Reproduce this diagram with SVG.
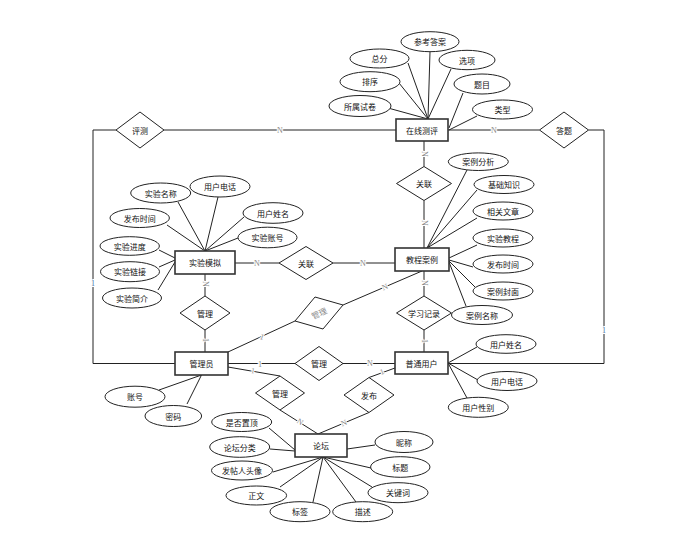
<svg xmlns="http://www.w3.org/2000/svg" width="699" height="554" viewBox="0 0 699 554">
<style>
.box{fill:#fff;stroke:#333;stroke-width:1.6}
.at{fill:#fff;stroke:#222;stroke-width:1}
.rel{fill:#fff;stroke:#222;stroke-width:1}
.ln{stroke:#222;stroke-width:1;fill:none}
.t{font-family:"Noto Sans CJK SC","Noto Sans",sans-serif;font-size:8px;text-anchor:middle;dominant-baseline:central;fill:#111}
.lb{font-family:"Liberation Serif",serif;font-size:8px;fill:#888;stroke:#fff;stroke-width:2;paint-order:stroke;text-anchor:middle;dominant-baseline:central}
.one{font-family:"Liberation Serif",serif;font-size:8px;fill:#4a6fa5;text-anchor:middle;dominant-baseline:central;stroke:#fff;stroke-width:2;paint-order:stroke}
</style>
<rect width="699" height="554" fill="#fff"/>
<g id="connectors">
<polyline class="ln" points="164,130 396,130"/>
<polyline class="ln" points="116,130 93,130 93,363.5 175,363.5"/>
<polyline class="ln" points="448,130 539.5,130"/>
<polyline class="ln" points="588.5,130 604,130 604,363.5 448,363.5"/>
<line class="ln" x1="424" y1="141" x2="424" y2="166.5"/>
<line class="ln" x1="424" y1="200.5" x2="424" y2="248"/>
<line class="ln" x1="235" y1="263" x2="279" y2="263"/>
<line class="ln" x1="333" y1="263" x2="395" y2="263"/>
<line class="ln" x1="205" y1="274" x2="205" y2="296"/>
<line class="ln" x1="205" y1="330" x2="205" y2="352"/>
<line class="ln" x1="228" y1="352" x2="295" y2="321"/>
<line class="ln" x1="343" y1="305" x2="422" y2="271"/>
<line class="ln" x1="424" y1="271" x2="424" y2="296"/>
<line class="ln" x1="424" y1="330" x2="424" y2="352"/>
<line class="ln" x1="228" y1="363.5" x2="295" y2="363.5"/>
<line class="ln" x1="343" y1="363.5" x2="395" y2="363.5"/>
<line class="ln" x1="228" y1="367" x2="280" y2="376"/>
<line class="ln" x1="280" y1="410" x2="318" y2="434"/>
<line class="ln" x1="395" y1="368" x2="369" y2="377.5"/>
<line class="ln" x1="369" y1="412.5" x2="318" y2="434"/>
<!-- attribute lines -->
<line class="ln" x1="430" y1="51.7" x2="428" y2="119"/>
<line class="ln" x1="408" y1="63" x2="428" y2="119"/>
<line class="ln" x1="451" y1="69" x2="428" y2="119"/>
<line class="ln" x1="399" y1="83" x2="428" y2="119"/>
<line class="ln" x1="463" y1="93" x2="449" y2="128"/>
<line class="ln" x1="388" y1="108" x2="428" y2="119"/>
<line class="ln" x1="477" y1="116" x2="449" y2="130"/>
<line class="ln" x1="178" y1="202" x2="205" y2="251"/>
<line class="ln" x1="218" y1="197" x2="205" y2="251"/>
<line class="ln" x1="244" y1="217" x2="205" y2="251"/>
<line class="ln" x1="238" y1="238" x2="205" y2="251"/>
<line class="ln" x1="167" y1="225" x2="205" y2="251"/>
<line class="ln" x1="159" y1="250" x2="175" y2="258"/>
<line class="ln" x1="159" y1="267" x2="175" y2="260"/>
<line class="ln" x1="158" y1="290" x2="175" y2="262"/>
<line class="ln" x1="467" y1="170" x2="427" y2="248"/>
<line class="ln" x1="477" y1="190" x2="427" y2="248"/>
<line class="ln" x1="477" y1="218" x2="427" y2="248"/>
<line class="ln" x1="477" y1="245" x2="449" y2="258"/>
<line class="ln" x1="473" y1="267" x2="449" y2="260"/>
<line class="ln" x1="475" y1="287" x2="449" y2="261"/>
<line class="ln" x1="466" y1="306" x2="449" y2="262"/>
<line class="ln" x1="159" y1="390" x2="201.5" y2="375"/>
<line class="ln" x1="187" y1="404" x2="201.5" y2="375"/>
<line class="ln" x1="477" y1="347" x2="448" y2="363"/>
<line class="ln" x1="478" y1="380" x2="448" y2="363"/>
<line class="ln" x1="467" y1="398" x2="448" y2="363"/>
<line class="ln" x1="269" y1="428" x2="295" y2="450"/>
<line class="ln" x1="270" y1="449" x2="295" y2="451"/>
<line class="ln" x1="273" y1="472" x2="323" y2="457"/>
<line class="ln" x1="280" y1="487" x2="323" y2="457"/>
<line class="ln" x1="313" y1="502" x2="323" y2="457"/>
<line class="ln" x1="356" y1="502" x2="323" y2="457"/>
<line class="ln" x1="372" y1="487" x2="323" y2="457"/>
<line class="ln" x1="371" y1="468" x2="323" y2="457"/>
<line class="ln" x1="375" y1="445" x2="347" y2="449"/>
<!-- cardinality labels -->
<text class="lb" x="280" y="130">N</text>
<text class="one" x="93" y="283">1</text>
<text class="lb" x="494" y="130">N</text>
<text class="one" x="604" y="330">1</text>
<text class="lb" transform="translate(424,154) rotate(90)">N</text>
<text class="lb" transform="translate(424,223) rotate(90)">N</text>
<text class="lb" x="257" y="263">N</text>
<text class="lb" x="363" y="263">N</text>
<text class="lb" transform="translate(205,284) rotate(90)">N</text>
<text class="lb" transform="translate(205,340) rotate(90)">1</text>
<text class="lb" transform="translate(262,337) rotate(20)">1</text>
<text class="lb" transform="translate(385,287) rotate(-23)">N</text>
<text class="lb" transform="translate(424,283) rotate(90)">N</text>
<text class="lb" transform="translate(424,341) rotate(90)">1</text>
<text class="lb" x="260" y="364">1</text>
<text class="lb" x="370" y="363.5">N</text>
<text class="lb" transform="translate(253,371) rotate(10)">1</text>
<text class="lb" transform="translate(300,422) rotate(32)">N</text>
<text class="lb" transform="translate(382,372) rotate(-20)">1</text>
<text class="lb" transform="translate(344,423) rotate(-23)">N</text>
</g>
<g id="n-zaixianceping"><rect class="box" x="396" y="119" width="52" height="22"/><text class="t" x="422" y="130">在线测评</text></g>
<g id="n-shiyanmoni"><rect class="box" x="175" y="251" width="60" height="23"/><text class="t" x="205" y="262.5">实验模拟</text></g>
<g id="n-jiaochenganli"><rect class="box" x="395" y="248" width="54" height="23"/><text class="t" x="422" y="259.5">教程案例</text></g>
<g id="n-guanliyuan"><rect class="box" x="175" y="352" width="53" height="23"/><text class="t" x="201.5" y="363.5">管理员</text></g>
<g id="n-putongyonghu"><rect class="box" x="395" y="352" width="53" height="22"/><text class="t" x="421.5" y="363">普通用户</text></g>
<g id="n-luntan"><rect class="box" x="295" y="434" width="52" height="23"/><text class="t" x="321" y="445.5">论坛</text></g>
<g id="r-pingce"><polygon class="rel" points="116,130 140,112 164,130 140,148"/><text class="t" x="140" y="130">评测</text></g>
<g id="r-dati"><polygon class="rel" points="539.5,130 564,112 588.5,130 564,148"/><text class="t" x="564" y="130">答题</text></g>
<g id="r-guanlian1"><polygon class="rel" points="396.5,183.5 424,166.5 451.5,183.5 424,200.5"/><text class="t" x="424" y="183.5">关联</text></g>
<g id="r-guanlian2"><polygon class="rel" points="279,263 306,246.5 333,263 306,279.5"/><text class="t" x="306" y="263">关联</text></g>
<g id="r-guanli1"><polygon class="rel" points="180,313 205,296 230,313 205,330"/><text class="t" x="205" y="313">管理</text></g>
<g id="r-guanli2"><polygon class="rel" points="295,321 315,297 343,305 323,329"/><text class="t" transform="translate(319,313) rotate(-25)" style="fill:#888">管理</text></g>
<g id="r-xuexijilu"><polygon class="rel" points="396.5,313 424,296 451.5,313 424,330"/><text class="t" x="424" y="313">学习记录</text></g>
<g id="r-guanli3"><polygon class="rel" points="295,363.5 319,346.5 343,363.5 319,380.5"/><text class="t" x="319" y="363.5">管理</text></g>
<g id="r-guanli4"><polygon class="rel" points="255.5,393 280,376 304.5,393 280,410"/><text class="t" x="280" y="393">管理</text></g>
<g id="r-fabu"><polygon class="rel" points="344,395 369,377.5 394,395 369,412.5"/><text class="t" x="369" y="395">发布</text></g>
<g id="a-cankaodaan"><ellipse class="at" cx="430" cy="41.7" rx="29" ry="10"/><text class="t" x="430" y="41.7">参考答案</text></g>
<g id="a-zongfen"><ellipse class="at" cx="379.5" cy="58.5" rx="29.5" ry="9.5"/><text class="t" x="379.5" y="58.5">总分</text></g>
<g id="a-xuanxiang"><ellipse class="at" cx="467" cy="60" rx="28" ry="9.7"/><text class="t" x="467" y="60">选项</text></g>
<g id="a-paixu"><ellipse class="at" cx="370" cy="81.7" rx="30" ry="10"/><text class="t" x="370" y="81.7">排序</text></g>
<g id="a-timu"><ellipse class="at" cx="482" cy="84" rx="28" ry="10"/><text class="t" x="482" y="84">题目</text></g>
<g id="a-shushushijuan"><ellipse class="at" cx="360" cy="106" rx="31" ry="10.5"/><text class="t" x="360" y="106">所属试卷</text></g>
<g id="a-leixing"><ellipse class="at" cx="502.5" cy="109.5" rx="30" ry="9.5"/><text class="t" x="502.5" y="109.5">类型</text></g>
<g id="a-shiyanmingcheng"><ellipse class="at" cx="160.7" cy="193" rx="30" ry="10"/><text class="t" x="160.7" y="193">实验名称</text></g>
<g id="a-yonghudianhua1"><ellipse class="at" cx="220" cy="186.5" rx="30" ry="10.5"/><text class="t" x="220" y="186.5">用户电话</text></g>
<g id="a-yonghuxingming1"><ellipse class="at" cx="273" cy="213" rx="30" ry="10.3"/><text class="t" x="273" y="213">用户姓名</text></g>
<g id="a-shiyanzhanghao"><ellipse class="at" cx="267.5" cy="237.5" rx="29.5" ry="10.3"/><text class="t" x="267.5" y="237.5">实验账号</text></g>
<g id="a-fabushijian1"><ellipse class="at" cx="139.7" cy="218" rx="29.7" ry="9.5"/><text class="t" x="139.7" y="218">发布时间</text></g>
<g id="a-shiyanjindu"><ellipse class="at" cx="129.7" cy="246" rx="29.7" ry="9.3"/><text class="t" x="129.7" y="246">实验进度</text></g>
<g id="a-shiyanlianjie"><ellipse class="at" cx="130" cy="271.7" rx="29.5" ry="10"/><text class="t" x="130" y="271.7">实验链接</text></g>
<g id="a-shiyanjianjie"><ellipse class="at" cx="132" cy="298" rx="29.5" ry="10"/><text class="t" x="132" y="298">实验简介</text></g>
<g id="a-anlifenxi"><ellipse class="at" cx="478.3" cy="161.7" rx="30" ry="8.8"/><text class="t" x="478.3" y="161.7">案例分析</text></g>
<g id="a-jichuzhishi"><ellipse class="at" cx="504" cy="184.5" rx="30" ry="9"/><text class="t" x="504" y="184.5">基础知识</text></g>
<g id="a-xiangguanwenzhang"><ellipse class="at" cx="503" cy="211" rx="30" ry="9"/><text class="t" x="503" y="211">相关文章</text></g>
<g id="a-shiyanjiaocheng"><ellipse class="at" cx="503" cy="238" rx="30" ry="9"/><text class="t" x="503" y="238">实验教程</text></g>
<g id="a-fabushijian2"><ellipse class="at" cx="503" cy="264" rx="30" ry="9"/><text class="t" x="503" y="264">发布时间</text></g>
<g id="a-anlifengmian"><ellipse class="at" cx="503" cy="291" rx="30" ry="9"/><text class="t" x="503" y="291">案例封面</text></g>
<g id="a-anlimingcheng"><ellipse class="at" cx="482" cy="315" rx="30.5" ry="9.5"/><text class="t" x="482" y="315">案例名称</text></g>
<g id="a-zhanghao"><ellipse class="at" cx="135" cy="396.7" rx="30" ry="10.5"/><text class="t" x="135" y="396.7">账号</text></g>
<g id="a-mima"><ellipse class="at" cx="173.3" cy="416" rx="28.3" ry="10.5"/><text class="t" x="173.3" y="416">密码</text></g>
<g id="a-yonghuxingming2"><ellipse class="at" cx="506" cy="344" rx="30" ry="9.3"/><text class="t" x="506" y="344">用户姓名</text></g>
<g id="a-yonghudianhua2"><ellipse class="at" cx="507" cy="381" rx="30" ry="9.5"/><text class="t" x="507" y="381">用户电话</text></g>
<g id="a-yonghuxingbie"><ellipse class="at" cx="478.3" cy="407.3" rx="30" ry="10"/><text class="t" x="478.3" y="407.3">用户性别</text></g>
<g id="a-shifouzhiding"><ellipse class="at" cx="241.7" cy="422" rx="30" ry="9.5"/><text class="t" x="241.7" y="422">是否置顶</text></g>
<g id="a-luntanfenlei"><ellipse class="at" cx="239.7" cy="447" rx="30" ry="10.3"/><text class="t" x="239.7" y="447">论坛分类</text></g>
<g id="a-fatierentouxiang"><ellipse class="at" cx="242" cy="470.5" rx="30.5" ry="9.5"/><text class="t" x="242" y="470.5">发帖人头像</text></g>
<g id="a-zhengwen"><ellipse class="at" cx="256.3" cy="495.5" rx="30.3" ry="9.5"/><text class="t" x="256.3" y="495.5">正文</text></g>
<g id="a-biaoqian"><ellipse class="at" cx="300" cy="511.7" rx="30" ry="10"/><text class="t" x="300" y="511.7">标签</text></g>
<g id="a-miaoshu"><ellipse class="at" cx="362.7" cy="511.7" rx="30" ry="10"/><text class="t" x="362.7" y="511.7">描述</text></g>
<g id="a-guanjianci"><ellipse class="at" cx="398" cy="492.7" rx="30" ry="10"/><text class="t" x="398" y="492.7">关键词</text></g>
<g id="a-biaoti"><ellipse class="at" cx="400.3" cy="467" rx="29.7" ry="10.3"/><text class="t" x="400.3" y="467">标题</text></g>
<g id="a-nicheng"><ellipse class="at" cx="404" cy="442" rx="29" ry="10.5"/><text class="t" x="404" y="442">昵称</text></g>
</svg>
